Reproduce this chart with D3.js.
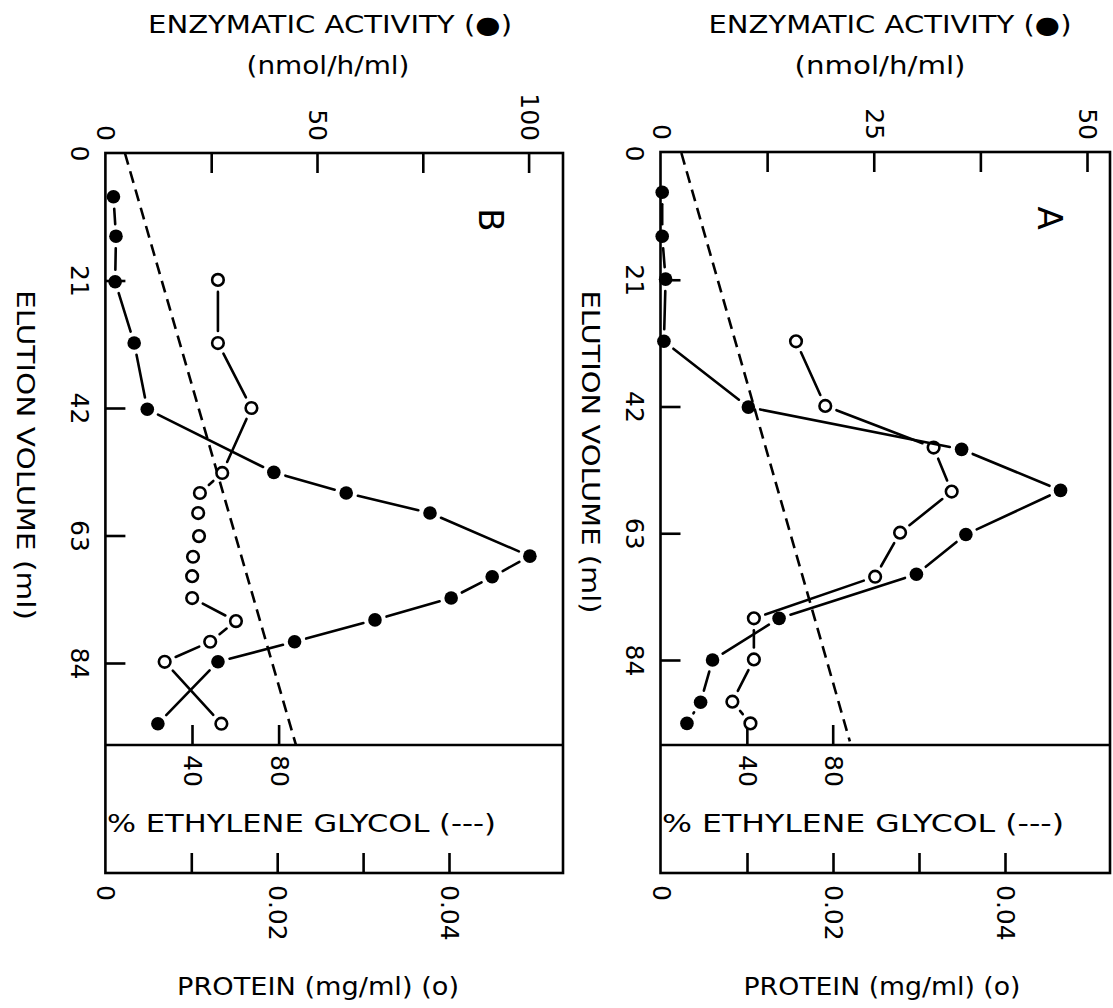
<!DOCTYPE html>
<html><head><meta charset="utf-8">
<script src="https://cdn.jsdelivr.net/npm/d3@7"></script>
<style>html,body{margin:0;padding:0;background:#fff;} svg{display:block;}</style>
</head><body>
<svg id="fig" width="1113" height="1008"></svg>
<script>
// ---- Panel A: enzymatic activity (filled) and protein (open) vs elution volume
const elutionActA = [6.5, 13.8, 20.9, 31.2, 42.1, 49.1, 55.9, 63.2, 69.8, 77.1, 84.0, 91.0, 94.5];
const activityA   = [0.2, 0.2, 0.6, 0.4, 10.3, 35.3, 46.9, 35.8, 30.0, 13.9, 6.1, 4.7, 3.1];
const elutionProtA = [31.2, 41.9, 48.8, 56.1, 62.9, 70.2, 77.1, 83.9, 90.9, 94.5];
const proteinA     = [0.0157, 0.0191, 0.0317, 0.0338, 0.0278, 0.0249, 0.0108, 0.0108, 0.0083, 0.0104];

// ---- Panel B
const elutionActB = [7.2, 13.7, 21.2, 31.3, 42.2, 52.6, 56.0, 59.3, 66.4, 69.8, 73.3, 76.9, 80.5, 83.8, 94.0];
const activityB   = [1.9, 2.5, 2.3, 6.8, 9.9, 39.8, 56.9, 76.7, 100.3, 91.4, 81.7, 63.7, 44.7, 26.6, 12.4];
const elutionProtB = [20.9, 31.3, 42.0, 52.7, 56.0, 59.3, 63.1, 66.5, 69.7, 73.3, 77.1, 80.5, 83.8, 94.0];
const proteinB     = [0.0131, 0.0131, 0.0170, 0.0136, 0.0110, 0.0108, 0.0109, 0.0102, 0.0101, 0.0101, 0.0152, 0.0122, 0.0069, 0.0135];

// ---- Ethylene glycol gradient (dashed)
const glycolElution = [0, 97.5];
const glycolA = [9.5, 88];
const glycolB = [9, 88];

// ---- Axis ticks
const elutionTicks = [0, 21, 42, 63, 84];
const activityTicksA = [0, 12.5, 25, 37.5, 50];
const activityLabelsA = [0, 25, 50];
const activityTicksB = [0, 25, 50, 75, 100];
const activityLabelsB = [0, 50, 100];
const proteinTicks = [0, 0.01, 0.02, 0.03, 0.04];
const proteinLabels = [0, 0.02, 0.04];
const glycolTicks = [40, 80];

const FONT = "'DejaVu Sans', 'Liberation Sans', sans-serif";
const svg = d3.select('#fig');

const panels = [
  {
    letter: 'B', left: 105.4, right: 563, top: 153, split: 745, bottom: 873,
    y: d3.scaleLinear().domain([0, 84]).range([153, 663]),
    act: d3.scaleLinear().domain([0, 100]).range([105.4, 528.6]),
    prot: d3.scaleLinear().domain([0, 0.04]).range([105.4, 449]),
    eg: d3.scaleLinear().domain([0, 80]).range([105.4, 278.6]),
    actTicks: activityTicksB, actLabels: activityLabelsB,
    elAct: elutionActB, vAct: activityB, elProt: elutionProtB, vProt: proteinB, vEG: glycolB,
    title: {cx: 330, len1: 364, cx2: 328, len2: 163},
    elLabel: {x: 25, y: 455, len: 330},
    egLabel: {x: 107, len: 389},
    protLabel: {cx: 318, len: 282},
    letterPos: [491, 220]
  },
  {
    letter: 'A', left: 660.5, right: 1110, top: 152, split: 745, bottom: 873,
    y: d3.scaleLinear().domain([0, 84]).range([153, 660]),
    act: d3.scaleLinear().domain([0, 50]).range([660.5, 1087]),
    prot: d3.scaleLinear().domain([0, 0.04]).range([661, 1005]),
    eg: d3.scaleLinear().domain([0, 80]).range([661, 832.7]),
    actTicks: activityTicksA, actLabels: activityLabelsA,
    elAct: elutionActA, vAct: activityA, elProt: elutionProtA, vProt: proteinA, vEG: glycolA,
    title: {cx: 890, len1: 363, cx2: 880, len2: 171},
    elLabel: {x: 590, y: 452, len: 323},
    egLabel: {x: 662, len: 402},
    protLabel: {cx: 882, len: 277},
    letterPos: [1050, 218]
  }
];

function styleAxis(sel) {
  sel.attr('font-family', FONT).attr('font-size', 25);
  sel.select('.domain').remove();
  sel.selectAll('.tick line').attr('stroke', '#000').attr('stroke-width', 2.6);
  sel.selectAll('.tick text').attr('fill', '#000');
}

// Connect consecutive markers with segments that stop short of each marker
function drawSeries(g, pts, filled) {
  const gap = 12;
  const segs = d3.pairs(pts).map(([a, b]) => {
    const dx = b[0] - a[0], dy = b[1] - a[1], L = Math.hypot(dx, dy);
    const ux = dx / L, uy = dy / L;
    return L > 2 * gap ? [a[0] + ux * gap, a[1] + uy * gap, b[0] - ux * gap, b[1] - uy * gap] : null;
  }).filter(Boolean);
  g.append('g').selectAll('line').data(segs).join('line')
    .attr('x1', d => d[0]).attr('y1', d => d[1]).attr('x2', d => d[2]).attr('y2', d => d[3])
    .attr('stroke', '#000').attr('stroke-width', 2.6).attr('stroke-linecap', 'round');
  g.append('g').selectAll('circle').data(pts).join('circle')
    .attr('cx', d => d[0]).attr('cy', d => d[1])
    .attr('r', filled ? 6.8 : 5.8)
    .attr('fill', filled ? '#000' : '#fff')
    .attr('stroke', '#000').attr('stroke-width', filled ? 0 : 2.6);
}

panels.forEach(p => {
  const g = svg.append('g');

  // frame and divider between plot and glycol scale
  g.append('rect').attr('x', p.left).attr('y', p.top)
    .attr('width', p.right - p.left).attr('height', p.bottom - p.top)
    .attr('fill', 'none').attr('stroke', '#000').attr('stroke-width', 2.6);
  g.append('line').attr('x1', p.left).attr('x2', p.right).attr('y1', p.split).attr('y2', p.split)
    .attr('stroke', '#000').attr('stroke-width', 2.6);

  // elution volume axis (left, labels rotated)
  const ge = g.append('g').attr('transform', `translate(${p.left},0)`)
    .call(d3.axisLeft(p.y).tickValues(elutionTicks).tickSize(-20).tickFormat(d3.format('d')));
  styleAxis(ge);
  ge.selectAll('.tick').filter(d => d === 0).select('line').remove();
  ge.selectAll('.tick text').attr('x', 0).attr('y', 0).attr('dy', null)
    .attr('transform', 'translate(-26,0) rotate(90)')
    .attr('text-anchor', 'middle').attr('dominant-baseline', 'central');

  // enzymatic activity axis (top)
  const ga = g.append('g').attr('transform', `translate(0,${p.top})`)
    .call(d3.axisTop(p.act).tickValues(p.actTicks).tickSize(-20)
      .tickFormat(d => p.actLabels.includes(d) ? d3.format('d')(d) : ''));
  styleAxis(ga);
  ga.selectAll('.tick').filter(d => d === 0).select('line').remove();
  ga.selectAll('.tick text').attr('x', 0).attr('y', 0).attr('dy', null)
    .attr('transform', 'translate(0,-12) rotate(90)')
    .attr('text-anchor', 'end').attr('dominant-baseline', 'central');

  // % ethylene glycol scale (top of lower strip, ticks point up)
  const gg = g.append('g').attr('transform', `translate(0,${p.split})`)
    .call(d3.axisBottom(p.eg).tickValues(glycolTicks).tickSize(-20).tickFormat(d3.format('d')));
  styleAxis(gg);
  gg.selectAll('.tick text').attr('x', 0).attr('y', 0).attr('dy', null)
    .attr('transform', 'translate(0,10) rotate(90)')
    .attr('text-anchor', 'start').attr('dominant-baseline', 'central');

  // protein axis (bottom)
  const gp = g.append('g').attr('transform', `translate(0,${p.bottom})`)
    .call(d3.axisBottom(p.prot).tickValues(proteinTicks).tickSize(-20)
      .tickFormat(d => proteinLabels.includes(d) ? (d === 0 ? '0' : d3.format('.2f')(d)) : ''));
  styleAxis(gp);
  gp.selectAll('.tick').filter(d => d === 0).select('line').remove();
  gp.selectAll('.tick text').attr('x', 0).attr('y', 0).attr('dy', null)
    .attr('transform', 'translate(0,12) rotate(90)')
    .attr('text-anchor', 'start').attr('dominant-baseline', 'central');

  // ethylene glycol gradient
  const egLine = d3.line().x(d => p.eg(d[1])).y(d => p.y(d[0]));
  g.append('path').datum(d3.zip(glycolElution, p.vEG)).attr('d', egLine)
    .attr('fill', 'none').attr('stroke', '#000').attr('stroke-width', 2.6)
    .attr('stroke-dasharray', '12,7');

  // protein (open) and activity (filled)
  drawSeries(g, p.elProt.map((e, i) => [p.prot(p.vProt[i]), p.y(e)]), false);
  drawSeries(g, p.elAct.map((e, i) => [p.act(p.vAct[i]), p.y(e)]), true);

  // texts
  const t = (x, y) => g.append('text').attr('x', x).attr('y', y)
    .attr('font-family', FONT).attr('fill', '#000').attr('dominant-baseline', 'central');
  t(p.title.cx, 25).attr('font-size', 24).attr('text-anchor', 'middle')
    .attr('textLength', p.title.len1).attr('lengthAdjust', 'spacingAndGlyphs')
    .text('ENZYMATIC ACTIVITY (●)');
  t(p.title.cx2, 66).attr('font-size', 24).attr('text-anchor', 'middle')
    .attr('textLength', p.title.len2).attr('lengthAdjust', 'spacingAndGlyphs')
    .text('(nmol/h/ml)');
  g.append('text').attr('transform', `translate(${p.elLabel.x},${p.elLabel.y}) rotate(90)`)
    .attr('font-family', FONT).attr('font-size', 24).attr('text-anchor', 'middle')
    .attr('dominant-baseline', 'central')
    .attr('textLength', p.elLabel.len).attr('lengthAdjust', 'spacingAndGlyphs')
    .text('ELUTION VOLUME (ml)');
  t(p.egLabel.x, 823).attr('font-size', 25).attr('text-anchor', 'start')
    .attr('textLength', p.egLabel.len).attr('lengthAdjust', 'spacingAndGlyphs')
    .text('% ETHYLENE GLYCOL (---)');
  t(p.protLabel.cx, 987).attr('font-size', 24).attr('text-anchor', 'middle')
    .attr('textLength', p.protLabel.len).attr('lengthAdjust', 'spacingAndGlyphs')
    .text('PROTEIN (mg/ml) (o)');
  g.append('text').attr('transform', `translate(${p.letterPos[0]},${p.letterPos[1]}) rotate(90)`)
    .attr('font-family', FONT).attr('font-size', 34).attr('text-anchor', 'middle')
    .attr('dominant-baseline', 'central').text(p.letter);
});
</script>
</body></html>
